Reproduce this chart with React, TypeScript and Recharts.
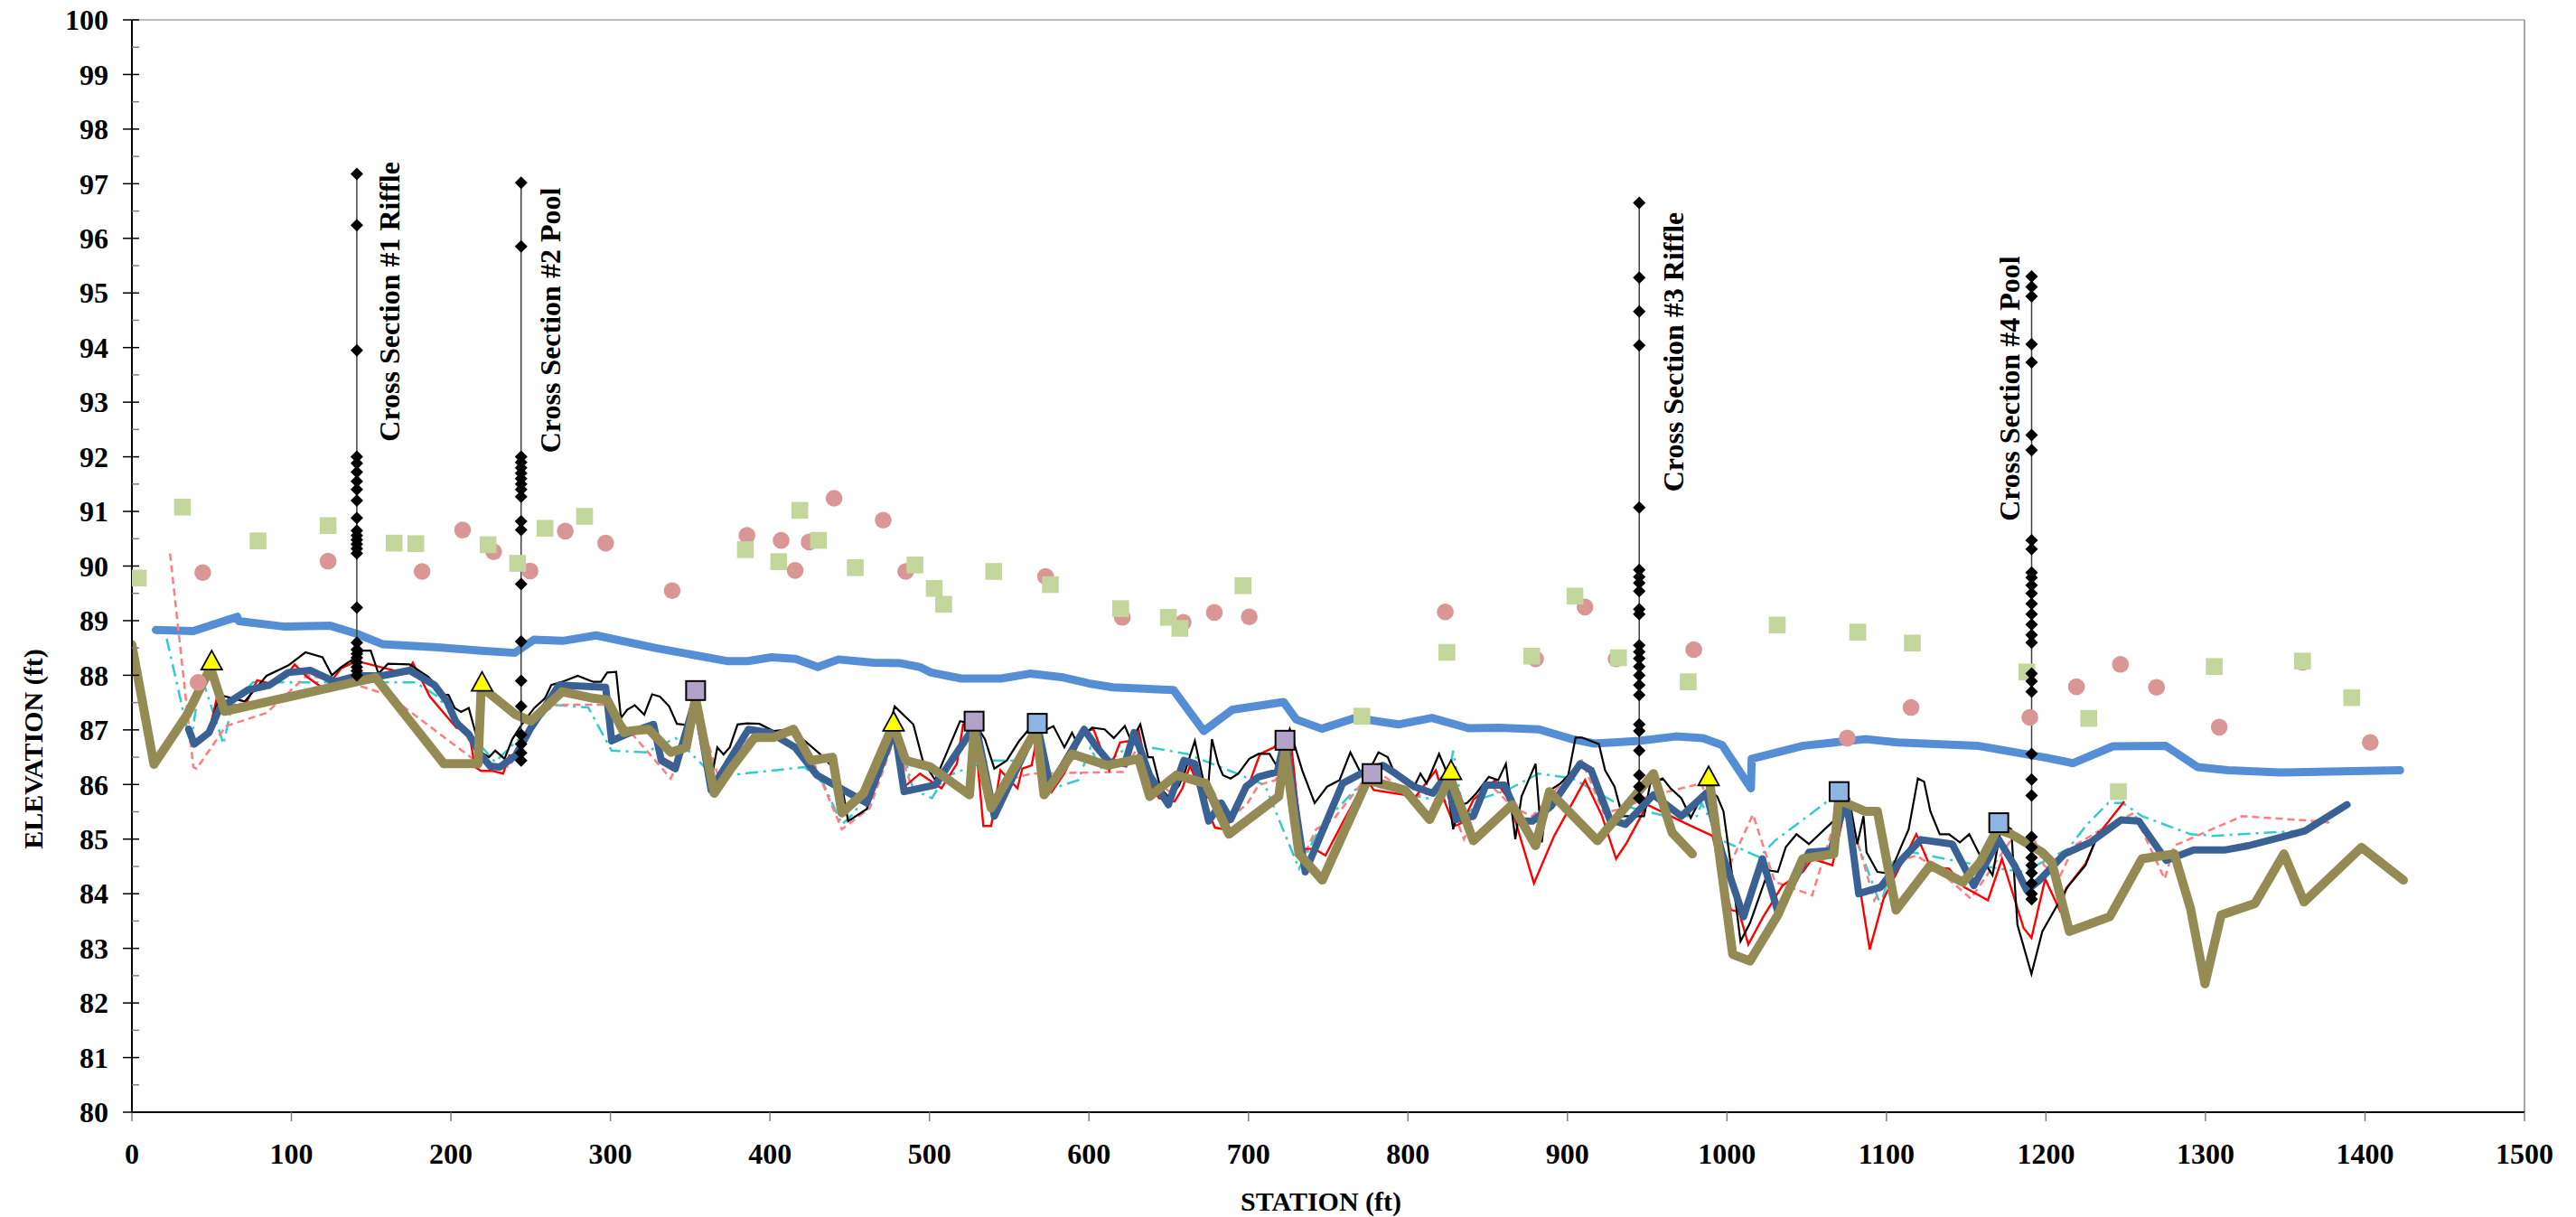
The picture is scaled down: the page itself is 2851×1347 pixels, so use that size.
import React from 'react';
import { ComposedChart, Line, Scatter, XAxis, YAxis, ReferenceLine } from 'recharts';

type P = [number, number | null];

const W = 2851;
const H = 1347;
const PLOT_LEFT = 146;
const PLOT_TOP = 22;
const PLOT_RIGHT = 2794;
const PLOT_BOTTOM = 1231;
const FONT = "'Liberation Serif', 'Times New Roman', serif";

const xTicks = [0, 100, 200, 300, 400, 500, 600, 700, 800, 900, 1000, 1100, 1200, 1300, 1400, 1500];
const yTicks = [80, 80.5, 81, 81.5, 82, 82.5, 83, 83.5, 84, 84.5, 85, 85.5, 86, 86.5, 87, 87.5, 88, 88.5, 89, 89.5, 90, 90.5, 91, 91.5, 92, 92.5, 93, 93.5, 94, 94.5, 95, 95.5, 96, 96.5, 97, 97.5, 98, 98.5, 99, 99.5, 100];

// water surface (light blue thick line)
const waterSurface: P[] = [
  [15, 88.83], [38.5, 88.81], [66, 89.07], [67, 88.99], [96, 88.89], [124, 88.91], [141, 88.76], [157, 88.57], [192, 88.51], [219, 88.45], [240, 88.41], [252, 88.65], [270, 88.63], [291, 88.73], [328, 88.5], [373, 88.26], [386, 88.26], [401, 88.33], [416, 88.3], [430, 88.15], [443, 88.29], [465, 88.23], [482, 88.22], [494, 88.15], [501, 88.05], [520, 87.94], [545, 87.94], [563, 88.03], [584, 87.96], [600, 87.85], [615, 87.78], [653, 87.73], [672, 86.98], [690, 87.37], [722, 87.51], [730, 87.19], [746, 87.02], [767, 87.22], [794, 87.1], [815, 87.22], [838, 87.03], [857, 87.04], [882, 87.01], [903, 86.83], [917, 86.75], [945, 86.8], [968, 86.88], [985, 86.85], [997, 86.72], [1015, 85.93], [1015.5, 86.47], [1048, 86.71], [1087, 86.83], [1107, 86.77], [1157, 86.71], [1200, 86.49], [1217, 86.39], [1242, 86.7], [1275, 86.71], [1295, 86.32], [1314, 86.26], [1347, 86.22], [1422, 86.26],
];

// olive thick profile (with a gap)
const profileOlive: P[] = [
  [0, 88.56], [13.8, 86.37], [34.6, 87.28], [49.3, 88.14], [58.1, 87.34], [152.7, 87.96], [195.6, 86.38], [217, 86.38], [219, 87.79], [240.5, 87.28], [250.2, 87.16], [269.7, 87.7], [289.2, 87.58], [298, 87.55], [308.5, 86.95], [312.4, 86.98], [324.1, 87.01], [337.8, 86.59], [347.5, 86.68], [353.4, 87.58], [365.1, 85.84], [374.8, 86.26], [390.4, 86.86], [402.1, 86.86], [414.8, 87.01], [425.6, 86.44], [439.2, 86.5], [445.1, 85.48], [458.7, 85.84], [477.3, 87.1], [485.1, 86.44], [500.7, 86.32], [525.1, 85.81], [528, 86.98], [538.7, 85.57], [567, 87.01], [571.9, 85.81], [589.4, 86.56], [611.7, 86.35], [631.2, 86.47], [638.1, 85.78], [654.7, 86.17], [673.2, 86.02], [687.8, 85.09], [719, 85.78], [722.9, 86.62], [731.7, 84.73], [746.3, 84.25], [774.6, 86.08], [798, 85.9], [813.6, 85.36], [826.3, 86.14], [841, 84.97], [865.3, 85.63], [880, 84.88], [888.7, 85.87], [918.8, 84.97], [953.9, 86.2], [965.6, 85.12], [978.3, 84.73], [984, null], [989, 86.08], [1003.6, 82.89], [1014.4, 82.77], [1031.9, 83.61], [1047.5, 84.64], [1067, 84.73], [1070, 85.72], [1086.5, 85.51], [1094.3, 85.51], [1106, 83.7], [1127.5, 84.52], [1148, 84.21], [1158.7, 84.58], [1169.4, 85.18], [1178.2, 85.09], [1197.5, 84.76], [1203.6, 84.58], [1214.7, 83.31], [1240, 83.58], [1260.2, 84.64], [1280.4, 84.73], [1290.6, 83.73], [1299.7, 82.35], [1309.8, 83.61], [1331, 83.82], [1349.2, 84.73], [1361.8, 83.85], [1397.8, 84.85], [1424.1, 84.25],
];

// dark blue thick profile
const profileNavy: P[] = [
  [35.6, 87.01], [39.1, 86.74], [48.3, 86.95], [55.1, 87.4], [72.7, 87.73], [86.3, 87.82], [98, 88.05], [111.7, 88.09], [127.3, 87.88], [141, 87.99], [156.6, 87.99], [174.1, 88.09], [189.7, 87.82], [197.5, 87.52], [203.4, 87.13], [211.2, 86.92], [219, 86.53], [224.8, 86.33], [230.7, 86.32], [240.5, 86.53], [250.2, 87.04], [267.8, 87.82], [297, 87.78], [300.8, 86.8], [312.4, 86.95], [327, 87.1], [331.9, 86.44], [340.7, 86.29], [353.4, 87.58], [363.1, 85.9], [386.5, 87.01], [400.2, 86.95], [415.8, 86.68], [429.5, 86.17], [460.7, 85.66], [478.2, 87.01], [484.1, 85.87], [503.6, 85.99], [529, 87.1], [540.7, 85.42], [562.1, 86.74], [568, 87.04], [575.8, 85.96], [597, 87.01], [604.9, 86.68], [612.7, 86.41], [622.5, 86.38], [628.3, 86.95], [638.1, 86.17], [649.8, 85.63], [659.5, 86.44], [666.4, 86.38], [675.1, 85.33], [682.9, 85.66], [688.8, 85.36], [698.5, 85.96], [706.3, 86.14], [718.1, 86.23], [722.9, 86.86], [735.6, 84.4], [759, 86.02], [774.6, 86.26], [784.4, 86.35], [792.2, 86.2], [803.9, 85.96], [815.6, 85.84], [823.4, 86.14], [825.4, 86.05], [830.2, 85.36], [841, 85.42], [848.8, 85.99], [860.5, 85.99], [870.2, 85.33], [878, 85.33], [889.7, 85.6], [908, 86.38], [914.9, 86.26], [926.6, 85.36], [936.3, 85.27], [953.9, 85.81], [971.4, 85.42], [987, 85.84], [996.8, 84.76], [1010.4, 83.58], [1022.2, 84.64], [1031.9, 83.67], [1051.4, 84.76], [1065.1, 84.79], [1074.8, 85.75], [1082.6, 84.0], [1096.3, 84.12], [1110, 84.64], [1121.6, 84.99], [1141.2, 84.91], [1154.8, 84.15], [1170.4, 84.99], [1180.2, 84.52], [1188, 84.06], [1196, 84.25], [1211.7, 84.73], [1227.8, 84.94], [1247.1, 85.35], [1258.2, 85.33], [1275.4, 84.61], [1292.6, 84.8], [1311.8, 84.8], [1327, 84.88], [1362.4, 85.15], [1388.7, 85.63],
];

// black thin profile
const profileBlack: P[] = [
  [48.3, 86.95], [55.1, 87.64], [70.7, 87.52], [84.4, 87.99], [98, 88.18], [108.8, 88.42], [119.5, 88.33], [125.4, 88.0], [131.2, 88.15], [139, 88.3], [144.9, 88.45], [149.7, 88.45], [154.6, 88.03], [160.5, 88.21], [174.1, 88.2], [185.8, 87.97], [191.7, 87.79], [195.6, 87.64], [198.5, 87.64], [202.4, 87.4], [206.3, 87.33], [211.2, 87.4], [215.1, 86.98], [219, 86.59], [223.9, 86.5], [227.8, 86.62], [233.6, 86.47], [238.5, 86.83], [244.4, 87.1], [252.2, 87.4], [259, 87.58], [262.9, 87.82], [269.7, 87.88], [279.5, 87.99], [289.2, 87.88], [294.1, 87.88], [298, 88.05], [303.6, 88.06], [306.6, 87.22], [310.5, 87.37], [315.3, 87.45], [321.2, 87.28], [326.1, 87.65], [331, 87.61], [336.8, 87.43], [341.7, 87.11], [347.5, 87.09], [353.4, 87.58], [364.1, 86.23], [367, 86.68], [370.9, 86.55], [374.8, 86.68], [379.7, 87.1], [385.6, 87.12], [393.4, 87.11], [402.1, 86.98], [413.8, 87.01], [421.7, 86.8], [431.4, 86.56], [439.2, 86.32], [446, 85.84], [449, 85.33], [460.7, 85.55], [464.6, 85.9], [478.2, 87.43], [489.9, 87.1], [495.8, 86.44], [503.6, 86.08], [519.2, 87.16], [529, 87.1], [534.8, 86.83], [540.7, 86.29], [548.5, 86.44], [556.3, 86.8], [564.1, 87.07], [571.9, 86.98], [577.7, 87.07], [584.6, 86.68], [589.4, 86.95], [591.4, 86.83], [597.2, 86.92], [602, 87.04], [609.8, 87.01], [615.6, 86.85], [622.5, 87.07], [626.4, 86.8], [632.2, 87.1], [637.1, 86.5], [640, 86.5], [644.9, 85.93], [650.7, 85.75], [656.6, 85.99], [660.5, 86.26], [666.4, 86.8], [671.2, 86.14], [674.2, 85.75], [677.1, 86.83], [681, 86.38], [684, 86.17], [688.8, 86.11], [693.7, 86.2], [700.5, 86.47], [706.3, 86.56], [713.2, 86.56], [718.1, 86.32], [725.9, 87.01], [733.7, 86.26], [741.5, 85.66], [749.3, 85.96], [757.1, 86.08], [763.9, 86.59], [772.7, 86.08], [781.5, 86.59], [787.3, 86.5], [792.2, 86.17], [798, 86.11], [803.9, 85.96], [807.8, 86.2], [811.7, 86.02], [819.5, 86.56], [823.4, 86.29], [828.3, 85.18], [833.2, 85.63], [837.1, 85.66], [842.9, 85.84], [850.7, 86.14], [856.6, 86.08], [861.4, 86.38], [867.3, 85.0], [871.2, 85.78], [880, 86.38], [883.9, 84.94], [887.8, 85.87], [895.6, 86.02], [900.5, 86.17], [905.1, 86.86], [909, 86.86], [919.7, 86.74], [923.6, 86.26], [929.5, 85.96], [934.4, 85.42], [948, 85.42], [951.9, 86.02], [959.7, 86.11], [964.6, 85.93], [971.4, 85.75], [977.3, 85.39], [983.1, 85.72], [990, 85.87], [993.9, 85.78], [997.8, 85.51], [1003.6, 84.27], [1008.5, 83.13], [1014.4, 83.46], [1026.1, 84.43], [1031.9, 84.4], [1036.8, 84.85], [1043.6, 85.09], [1051.4, 84.91], [1061.2, 85.18], [1069, 85.39], [1076.8, 85.72], [1081.7, 84.91], [1085.6, 85.42], [1087.5, 84.76], [1094.3, 84.4], [1102.1, 84.37], [1109.9, 84.91], [1113.9, 85.18], [1119.7, 86.11], [1123.6, 86.05], [1127.5, 85.51], [1133.4, 85.09], [1139.2, 85.09], [1146, 84.94], [1151.9, 85.09], [1158.7, 84.7], [1166.5, 84.34], [1172.4, 85.3], [1178.2, 85.18], [1182.1, 83.43], [1190.9, 82.53], [1197.7, 83.31], [1213.7, 84.13], [1224.8, 84.52], [1232.9, 85.12], [1240, 85.15],
];

// red thin profile
const profileRed: P[] = [
  [48.3, 86.95], [53.2, 87.58], [61, 87.43], [66.8, 87.46], [71.7, 87.49], [78.5, 87.91], [86.3, 87.85], [96.1, 87.96], [102, 88.2], [109.8, 87.97], [118.5, 87.79], [122.4, 87.79], [131.2, 88.13], [141, 88.26], [172.2, 88.03], [176.1, 88.23], [186.8, 87.61], [203.4, 87.04], [211.2, 86.98], [215.1, 86.32], [219, 86.25], [225.8, 86.25], [232.7, 86.2], [236.6, 86.53], [241.4, 86.53], [248.3, 86.98], [258, 87.46], [265.8, 87.73], [269.7, 87.79], [297, 87.79], [300.9, 86.8], [312, 86.9], [327, 87.05], [332, 86.5], [341, 86.35], [353, 87.5], [363, 85.95], [386, 86.98], [400, 86.9], [416, 86.65], [430, 86.2], [461, 85.7], [478, 86.98], [484, 85.95], [494, 86.2], [507.5, 85.93], [517.2, 86.38], [521.1, 87.1], [528, 87.1], [533.8, 85.24], [538.7, 85.24], [544.5, 86.26], [550.3, 86.08], [555.2, 85.93], [558.2, 86.29], [564.1, 86.35], [568, 86.98], [570.9, 86.8], [576.8, 85.87], [584.5, 86.2], [597.2, 86.98], [602.9, 87.01], [612.7, 86.26], [619.5, 86.77], [626.4, 86.8], [631.2, 86.98], [638.1, 86.02], [643.9, 85.75], [653.7, 85.69], [658.6, 85.93], [663.4, 86.35], [670.3, 85.81], [679, 85.21], [684.9, 85.18], [693.7, 85.57], [700.5, 86.02], [707.3, 86.56], [716.1, 86.68], [725.9, 86.98], [733.7, 84.82], [741.5, 84.82], [748.3, 84.7], [759, 85.3], [766.8, 85.72], [774.6, 86.08], [778.5, 85.9], [804.9, 85.78], [817.5, 86.26], [823.4, 85.66], [829.2, 85.24], [834.1, 85.3], [841, 85.72], [854.6, 86.08], [863.4, 85.72], [879, 84.19], [891.7, 85.06], [911, 86.08], [921.7, 85.42], [930.5, 84.64], [937.3, 84.94], [950, 85.63], [975.3, 85.27], [990.9, 85.06], [1002.6, 83.7], [1007.5, 83.67], [1013.4, 83.07], [1022.2, 83.55], [1034.8, 84.15], [1047.5, 84.4], [1053.4, 84.64], [1066.1, 84.52], [1074.8, 85.66], [1089.5, 82.98], [1098.2, 83.91], [1118.7, 85.09], [1127.5, 84.49], [1139.2, 84.46], [1148.9, 84.12], [1163.6, 83.88], [1172.4, 84.64], [1186, 83.37], [1190.9, 83.19], [1199.5, 84.27], [1208.6, 83.7], [1212.7, 84.1], [1224.8, 84.55], [1232.9, 85.09], [1249.1, 85.69],
];

// salmon dashed profile
const profileSalmon: P[] = [
  [23.9, 90.23], [38.5, 86.32], [40.5, 86.29], [59, 87.07], [84.4, 87.31], [109.8, 88.0], [141, 87.82], [160.5, 87.64], [215.1, 86.44], [236.6, 86.32], [242.4, 86.62], [250.2, 87.1], [263.9, 87.46], [297, 87.46], [307.5, 87.13], [337.8, 86.11], [345.6, 86.62], [353.4, 87.52], [367, 86.2], [390.4, 86.95], [406, 86.86], [425.6, 86.53], [445.1, 85.18], [462.6, 85.57], [478.2, 86.86], [489.9, 85.87], [503.6, 85.99], [526, 87.04], [530.9, 86.92], [538.7, 85.51], [548.5, 86.08], [564.1, 86.2], [621.5, 86.23], [629.3, 86.62], [638.1, 86.11], [650.7, 85.87], [665.4, 86.35], [675.1, 86.02], [687.8, 85.36], [699.5, 85.66], [706.3, 85.99], [717.1, 86.08], [725.9, 86.95], [733.7, 84.64], [742.4, 85.18], [753.2, 85.36], [772.7, 86.08], [782.4, 86.2], [803.9, 85.78], [823.4, 85.9], [835.1, 85.0], [850.7, 86.02], [866.3, 85.57], [878, 85.42], [891.7, 85.87], [909, 86.44], [922.7, 85.48], [936.3, 85.57], [950, 85.78], [984.1, 86.02], [1000.7, 84.46], [1016.3, 85.45], [1030, 84.22], [1053.4, 83.97], [1065.1, 85.09], [1074.8, 85.66], [1092.4, 83.88], [1106, 84.58], [1118.7, 84.7], [1131.4, 84.46], [1152.9, 83.91], [1166.5, 84.49], [1178.2, 84.99], [1191.9, 85.06], [1198.7, 84.52], [1208.6, 84.31], [1217.7, 84.88], [1234.9, 85.18], [1255.2, 85.48], [1274.4, 84.27], [1280.4, 84.88], [1322.9, 85.42], [1369.5, 85.33], [1377.6, 85.3],
];

// cyan dash-dot profile
const profileCyan: P[] = [
  [21.8, 88.67], [36.8, 86.74], [43.3, 88.01], [57.4, 86.74], [62.8, 87.46], [75.8, 87.87], [177.7, 87.87], [190.7, 87.63], [205.9, 87.13], [214.6, 86.85], [227.6, 86.41], [247.1, 86.96], [264.4, 87.46], [286.1, 87.41], [300.7, 86.62], [322.2, 86.59], [341, 86.85], [365.1, 86.14], [421.7, 86.32], [433.4, 86.02], [445.1, 85.27], [452.9, 85.48], [466.5, 86.2], [480.2, 86.95], [489.9, 85.9], [501.6, 85.75], [509.5, 86.14], [536.8, 86.44], [558.2, 86.44], [568, 86.92], [577.7, 85.93], [593.3, 86.08], [601, 86.68], [606.9, 86.29], [626.4, 86.74], [661.5, 86.56], [692.7, 86.2], [710.3, 85.99], [731.7, 84.46], [745.4, 85.24], [759, 85.66], [772.7, 86.08], [805.8, 85.78], [823.4, 85.69], [828.3, 86.62], [835.1, 85.39], [846.8, 85.75], [862.4, 85.9], [881.9, 86.2], [903.2, 86.11], [932.4, 85.63], [961.7, 85.42], [981.2, 85.42], [984.1, 85.66], [995.8, 84.99], [1020.2, 84.67], [1030, 84.97], [1067, 85.78], [1078.7, 85.18], [1096.3, 83.79], [1104.1, 84.58], [1115.8, 84.76], [1147, 84.58], [1170.4, 84.46], [1186, 84.4], [1213.7, 84.82], [1225.8, 85.27], [1239, 85.66], [1248.1, 85.66], [1260.2, 85.42], [1290.6, 85.09], [1304.7, 85.06], [1357.3, 85.15],
];

// scatter: pink circles
const pinkCircles: P[] = [
  [44.4, 89.88], [41.5, 87.87], [123, 90.09], [181.9, 89.9], [207.3, 90.66], [226.8, 90.26], [249.6, 89.91], [271.7, 90.64], [297, 90.42], [338.7, 89.55], [385.6, 90.56], [407, 90.47], [415.8, 89.92], [424.6, 90.44], [440.2, 91.24], [471, 90.84], [485.1, 89.9], [572.8, 89.81], [620.9, 89.06], [659.1, 88.97], [678.6, 89.15], [700.5, 89.07], [823.4, 89.16], [880, 88.3], [911, 89.25], [930.5, 88.3], [979.2, 88.47], [1075.4, 86.85], [1115.4, 87.41], [1189.9, 87.23], [1219.1, 87.79], [1246.7, 88.2], [1269.3, 87.78], [1308.6, 87.05], [1360.8, 88.24], [1403.3, 86.77],
];

// scatter: green squares
const greenSquares: P[] = [
  [4, 89.78], [31.7, 91.08], [79.1, 90.46], [123, 90.74], [164.4, 90.42], [178, 90.41], [223.3, 90.39], [241.8, 90.05], [259, 90.69], [283.8, 90.91], [384.6, 90.3], [405.5, 90.08], [418.7, 91.02], [430.4, 90.47], [453.5, 89.97], [490.9, 90.02], [503, 89.59], [508.9, 89.3], [540.3, 89.9], [575.8, 89.66], [619.9, 89.22], [649.8, 89.06], [657, 88.86], [696.6, 89.64], [771.1, 87.25], [824.4, 88.42], [877.6, 88.35], [904.7, 89.45], [932, 88.32], [975.7, 87.88], [1031.5, 88.92], [1082, 88.79], [1116.2, 88.59], [1188, 88.06], [1226.8, 87.21], [1245.4, 85.87], [1305.5, 88.16], [1360.8, 88.26], [1391.7, 87.59],
];

// feature markers
const yellowTriangles: P[] = [[50, 88.27], [219.5, 87.88], [477.5, 87.15], [827, 86.26], [988.5, 86.15]];
const purpleSquares: P[] = [[353.4, 87.72], [528, 87.16], [722.9, 86.81], [777.5, 86.2]];
const blueSquares: P[] = [[567.6, 87.12], [1070.3, 85.87], [1170.4, 85.3]];

// cross sections
const xs1Station = 141;
const xs1Elev = [97.18, 96.24, 93.95, 92.0, 91.88, 91.72, 91.55, 91.4, 91.2, 90.88, 90.65, 90.56, 90.48, 90.4, 90.32, 90.23, 89.24, 88.6, 88.47, 88.39, 88.32, 88.24, 88.15, 88.08, 88.0];
const xs2Station = 244;
const xs2Elev = [97.02, 95.85, 92.0, 91.9, 91.8, 91.7, 91.6, 91.5, 91.4, 91.27, 90.82, 90.66, 89.67, 88.62, 87.9, 87.43, 86.91, 86.74, 86.58, 86.44];
const xs3Station = 945;
const xs3Elev = [96.65, 95.28, 94.66, 94.04, 91.07, 89.93, 89.8, 89.69, 89.54, 89.21, 89.12, 88.55, 88.43, 88.31, 88.16, 88.0, 87.82, 87.64, 87.1, 86.98, 86.62, 86.17, 85.96, 85.75];
const xs4Station = 1191;
const xs4Elev = [95.3, 95.11, 94.94, 94.06, 93.73, 92.4, 92.12, 90.47, 90.31, 89.88, 89.79, 89.65, 89.5, 89.31, 89.12, 88.93, 88.74, 88.6, 88.03, 87.89, 87.7, 86.56, 86.09, 85.8, 85.04, 84.85, 84.66, 84.52, 84.38, 84.19, 84.0, 83.9];

const xsLabels = [
  { x: 161.3, y: 94.84, label: 'Cross Section #1 Riffle' },
  { x: 262.3, y: 94.5, label: 'Cross Section #2 Pool' },
  { x: 966, y: 93.92, label: 'Cross Section #3 Riffle' },
  { x: 1177.2, y: 93.25, label: 'Cross Section #4 Pool' },
];

const toPts = (arr: P[]) => arr.map(([x, y]) => ({ x, y }));
const xsPts = (st: number, elevs: number[]) => elevs.map((y) => ({ x: st, y }));

const YTick = (props: any) => {
  const { y, payload } = props;
  const v = payload.value as number;
  const major = Math.abs(v - Math.round(v)) < 1e-6;
  return (
    <g>
      {major ? (
        <line x1={PLOT_LEFT - 10} x2={PLOT_LEFT + 8} y1={y} y2={y} stroke="#000" strokeWidth={1.5} />
      ) : (
        <line x1={PLOT_LEFT} x2={PLOT_LEFT + 8} y1={y} y2={y} stroke="#808080" strokeWidth={1.5} />
      )}
      {major && (
        <text x={120} y={y} dy="0.35em" textAnchor="end" fontFamily={FONT} fontWeight="bold" fontSize={32} fill="#000">
          {v}
        </text>
      )}
    </g>
  );
};

const XTick = (props: any) => {
  const { x, payload } = props;
  return (
    <g>
      <line x1={x} x2={x} y1={PLOT_BOTTOM} y2={PLOT_BOTTOM + 10} stroke="#808080" strokeWidth={1.5} />
      <text x={x} y={1288} textAnchor="middle" fontFamily={FONT} fontWeight="bold" fontSize={32} fill="#000">
        {payload.value}
      </text>
    </g>
  );
};

const diamondDot = (props: any) => {
  const { cx, cy, index } = props;
  if (cx == null || cy == null) return <g key={index} />;
  return <path key={index} d={`M${cx},${cy - 7} L${cx + 7},${cy} L${cx},${cy + 7} L${cx - 7},${cy} Z`} fill="#000" />;
};

const circleShape = (props: any) => <circle cx={props.cx} cy={props.cy} r={9.3} fill="#D99694" />;
const greenShape = (props: any) => <rect x={props.cx - 9.3} y={props.cy - 9.3} width={18.6} height={18.6} fill="#C3D69B" />;
const triShape = (props: any) => (
  <polygon
    points={`${props.cx},${props.cy - 11} ${props.cx + 11.5},${props.cy + 10} ${props.cx - 11.5},${props.cy + 10}`}
    fill="#FFFF00"
    stroke="#000"
    strokeWidth={1.8}
    strokeLinejoin="miter"
  />
);
const purpleShape = (props: any) => (
  <rect x={props.cx - 10.5} y={props.cy - 10.5} width={21} height={21} fill="#B3A2C7" stroke="#000" strokeWidth={2} />
);
const lightBlueShape = (props: any) => (
  <rect x={props.cx - 10.5} y={props.cy - 10.5} width={21} height={21} fill="#8DB4E2" stroke="#000" strokeWidth={2} />
);
const labelShape = (props: any) => {
  const { cx, cy, payload } = props;
  return (
    <text
      x={cx}
      y={cy}
      dy="0.35em"
      transform={`rotate(-90, ${cx}, ${cy})`}
      textAnchor="middle"
      fontFamily={FONT}
      fontWeight="bold"
      fontSize={32}
      fill="#000"
    >
      {payload.label}
    </text>
  );
};

export default function App() {
  return (
    <div style={{ position: 'absolute', left: 0, top: 0, width: W, height: H, overflow: 'hidden', background: '#fff' }}>
      <ComposedChart
        width={W}
        height={H}
        margin={{ top: PLOT_TOP, right: W - PLOT_RIGHT, bottom: H - PLOT_BOTTOM - 100, left: 0 }}
      >
        <XAxis
          dataKey="x"
          type="number"
          domain={[0, 1500]}
          ticks={xTicks}
          interval={0}
          allowDataOverflow
          height={100}
          tickLine={false}
          axisLine={{ stroke: '#000', strokeWidth: 2 }}
          tick={<XTick />}
        />
        <YAxis
          dataKey="y"
          type="number"
          domain={[80, 100]}
          ticks={yTicks}
          interval={0}
          allowDataOverflow
          width={PLOT_LEFT}
          tickLine={false}
          axisLine={{ stroke: '#000', strokeWidth: 2 }}
          tick={<YTick />}
        />
        <ReferenceLine y={100} stroke="#A6A6A6" strokeWidth={1.5} />
        <ReferenceLine x={1500} stroke="#A6A6A6" strokeWidth={2} />

        <Line data={toPts(waterSurface)} dataKey="y" stroke="#558ED5" strokeWidth={9} dot={false} activeDot={false} strokeLinejoin="round" strokeLinecap="round" isAnimationActive={false} />
        <Line data={toPts(profileCyan)} dataKey="y" stroke="#33CCCC" strokeWidth={2.5} strokeDasharray="14 6 3 6" dot={false} activeDot={false} isAnimationActive={false} />
        <Line data={toPts(profileSalmon)} dataKey="y" stroke="#FF7C80" strokeWidth={2.5} strokeDasharray="8 5" dot={false} activeDot={false} isAnimationActive={false} />
        <Line data={toPts(profileRed)} dataKey="y" stroke="#FF0000" strokeWidth={2.4} dot={false} activeDot={false} isAnimationActive={false} />
        <Line data={toPts(profileBlack)} dataKey="y" stroke="#000000" strokeWidth={2.2} dot={false} activeDot={false} isAnimationActive={false} />
        <Line data={toPts(profileNavy)} dataKey="y" stroke="#3A6194" strokeWidth={8} dot={false} activeDot={false} strokeLinejoin="round" strokeLinecap="round" isAnimationActive={false} />
        <Line data={toPts(profileOlive)} dataKey="y" stroke="#948A54" strokeWidth={10} dot={false} activeDot={false} strokeLinejoin="round" strokeLinecap="round" isAnimationActive={false} />

        <Scatter data={toPts(pinkCircles)} shape={circleShape} isAnimationActive={false} />
        <Scatter data={toPts(greenSquares)} shape={greenShape} isAnimationActive={false} />

        <Line data={xsPts(xs1Station, xs1Elev)} dataKey="y" stroke="#404040" strokeWidth={1.5} dot={diamondDot} activeDot={false} isAnimationActive={false} />
        <Line data={xsPts(xs2Station, xs2Elev)} dataKey="y" stroke="#404040" strokeWidth={1.5} dot={diamondDot} activeDot={false} isAnimationActive={false} />
        <Line data={xsPts(xs3Station, xs3Elev)} dataKey="y" stroke="#404040" strokeWidth={1.5} dot={diamondDot} activeDot={false} isAnimationActive={false} />
        <Line data={xsPts(xs4Station, xs4Elev)} dataKey="y" stroke="#404040" strokeWidth={1.5} dot={diamondDot} activeDot={false} isAnimationActive={false} />

        <Scatter data={toPts(yellowTriangles)} shape={triShape} isAnimationActive={false} />
        <Scatter data={toPts(purpleSquares)} shape={purpleShape} isAnimationActive={false} />
        <Scatter data={toPts(blueSquares)} shape={lightBlueShape} isAnimationActive={false} />
        <Scatter data={xsLabels} shape={labelShape} isAnimationActive={false} />
      </ComposedChart>
      <svg width={W} height={H} style={{ position: 'absolute', left: 0, top: 0, pointerEvents: 'none' }}>
        <text
          x={36}
          y={829}
          dy="0.35em"
          transform="rotate(-90, 36, 829)"
          textAnchor="middle"
          fontFamily={FONT}
          fontWeight="bold"
          fontSize={30}
          fill="#000"
        >
          ELEVATION (ft)
        </text>
        <text x={1462} y={1340} textAnchor="middle" fontFamily={FONT} fontWeight="bold" fontSize={30} fill="#000">
          STATION (ft)
        </text>
      </svg>
    </div>
  );
}
